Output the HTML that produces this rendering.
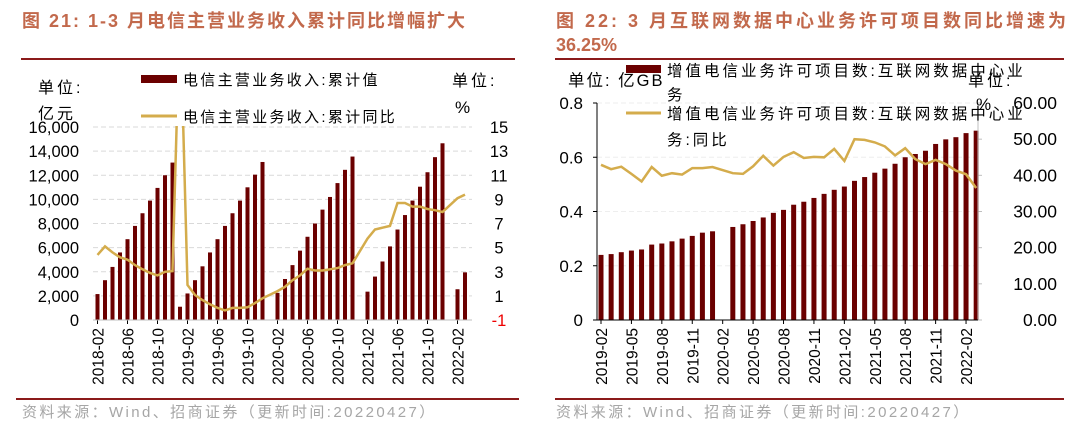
<!DOCTYPE html>
<html><head><meta charset="utf-8">
<style>
body{margin:0;background:#fff;width:1080px;height:434px;overflow:hidden;font-family:"Liberation Sans","Noto Sans CJK SC",sans-serif;}
svg text{font-family:"Liberation Sans","Noto Sans CJK SC",sans-serif;}
</style></head>
<body>
<svg id="c" width="1080" height="434" viewBox="0 0 1080 434">
<text x="22" y="27" font-size="18" font-weight="bold" fill="#c2694c" letter-spacing="2">图 21:  1-3 月电信主营业务收入累计同比增幅扩大</text>
<text x="556" y="27" font-size="18" font-weight="bold" fill="#c2694c" letter-spacing="3">图 22:  3 月互联网数据中心业务许可项目数同比增速为</text>
<text x="556" y="51" font-size="18" font-weight="bold" fill="#c2694c">36.25%</text>
<rect x="21" y="58" width="494" height="2" fill="#8b1a1a"/>
<rect x="555" y="58" width="509" height="2" fill="#8b1a1a"/>
<rect x="16" y="398" width="503" height="2" fill="#8b1a1a"/>
<rect x="555" y="398" width="509" height="2" fill="#8b1a1a"/>
<text x="22" y="417" font-size="15" fill="#a6a6a6" letter-spacing="2.4">资料来源：Wind、招商证券（更新时间:20220427）</text>
<text x="556" y="417" font-size="15" fill="#a6a6a6" letter-spacing="2.4">资料来源：Wind、招商证券（更新时间:20220427）</text>
<g id="L"></g><g id="R"></g>
</svg>
<script>
// Left chart data
const lMonths = ["2018-02","2018-03","2018-04","2018-05","2018-06","2018-07","2018-08","2018-09","2018-10","2018-11","2018-12","2019-01","2019-02","2019-03","2019-04","2019-05","2019-06","2019-07","2019-08","2019-09","2019-10","2019-11","2019-12","2020-01","2020-02","2020-03","2020-04","2020-05","2020-06","2020-07","2020-08","2020-09","2020-10","2020-11","2020-12","2021-01","2021-02","2021-03","2021-04","2021-05","2021-06","2021-07","2021-08","2021-09","2021-10","2021-11","2021-12","2022-01","2022-02","2022-03"];
const lBars = [2150,3300,4400,5600,6700,7800,8850,9900,10950,12000,13050,1100,2200,3300,4450,5600,6700,7800,8850,9900,11000,12050,13100,null,2250,3400,4550,5750,6900,8000,9150,10200,11350,12450,13550,null,2350,3600,4850,6100,7500,8700,9900,11050,12250,13500,14650,null,2550,3950];
const lLine = [4.4,5.1,4.6,4.2,4.0,3.55,3.2,2.9,2.7,3.0,3.05,25,1.9,1.07,0.65,0.3,0.0,-0.2,0.0,0.0,0.05,0.4,0.8,null,1.4,1.75,2.3,2.7,3.25,3.1,3.1,3.2,3.3,3.55,3.7,null,5.75,6.5,6.65,6.8,8.7,8.7,8.4,8.4,8.2,8.1,7.95,null,9.1,9.4];
const lLeftTicks = ["0","2,000","4,000","6,000","8,000","10,000","12,000","14,000","16,000"];
const lRightTicks = ["-1","1","3","5","7","9","11","13","15"];
const lXLabels = ["2018-02","2018-06","2018-10","2019-02","2019-06","2019-10","2020-02","2020-06","2020-10","2021-02","2021-06","2021-10","2022-02"];
// Right chart data
const rMonths = ["2019-02","2019-03","2019-04","2019-05","2019-06","2019-07","2019-08","2019-09","2019-10","2019-11","2019-12","2020-01","2020-02","2020-03","2020-04","2020-05","2020-06","2020-07","2020-08","2020-09","2020-10","2020-11","2020-12","2021-01","2021-02","2021-03","2021-04","2021-05","2021-06","2021-07","2021-08","2021-09","2021-10","2021-11","2021-12","2022-01","2022-02","2022-03"];
const rBars = [0.24,0.243,0.25,0.256,0.26,0.278,0.282,0.29,0.30,0.31,0.322,0.327,null,0.343,0.353,0.365,0.378,0.395,0.406,0.425,0.436,0.45,0.465,0.48,0.492,0.513,0.527,0.543,0.558,0.576,0.6,0.612,0.624,0.649,0.666,0.674,0.689,0.698];
const rLine = [42.9,41.7,42.4,40.4,38.3,42.3,39.9,40.6,40.2,42.0,42.0,42.3,null,40.6,40.4,42.5,45.4,42.7,45.1,46.4,44.8,45.1,45.0,47.3,44.0,50.0,49.8,49.1,48.0,45.5,47.5,44.5,43.1,44.3,43.1,41.3,40.3,36.5];
const rLeftTicks = ["0","0.2","0.4","0.6","0.8"];
const rRightTicks = ["0.00","10.00","20.00","30.00","40.00","50.00","60.00"];
const rXLabels = ["2019-02","2019-05","2019-08","2019-11","2020-02","2020-05","2020-08","2020-11","2021-02","2021-05","2021-08","2021-11","2022-02"];

const NS="http://www.w3.org/2000/svg";
function mk(p,t,a,txt){const e=document.createElementNS(NS,t);for(const k in a)e.setAttribute(k,a[k]);if(txt!==undefined)e.textContent=txt;p.appendChild(e);return e;}
const BAR="#6b0000", LINE="#d4ac4c";

// LEFT
(function(){
const g=document.getElementById('L');
const x0=97.5, dx=7.5, yT=127, yB=320;
const xS=i=>x0+i*dx;
const yL=v=>yB-(v/16000)*(yB-yT);
const yR=v=>yB-((v+1)/16)*(yB-yT);
mk(g,'clipPath',{id:'lclip'}); mk(document.getElementById('lclip'),'rect',{x:85,y:yT-1,width:400,height:yB-yT+2});
lLeftTicks.forEach((t,i)=>{const y=yB-i*(yB-yT)/8;
 if(i>0){const l=mk(g,'line',{x1:93,x2:472,y1:y,y2:y,stroke:'#d9d9d9','stroke-dasharray':'5,3'});}
 const e=mk(g,'text',{x:79,y:y+6,'text-anchor':'end','font-size':16.5,fill:'#000'},t);});
lRightTicks.forEach((t,i)=>{const y=yB-i*(yB-yT)/8;
 const e=mk(g,'text',{x:499,y:y+6,'text-anchor':'middle','font-size':16.5,fill:i==0?'#e00':'#000'},t);});
lBars.forEach((v,i)=>{if(v==null)return;const r=mk(g,'rect',{x:xS(i)-2,y:yL(v),width:4,height:yB-yL(v),fill:BAR});});
let d='';lLine.forEach((v,i)=>{if(v==null)return;d+=(d?'L':'M')+xS(i).toFixed(1)+','+yR(v).toFixed(1);});
const pl=mk(g,'path',{d:d,fill:'none',stroke:LINE,'stroke-width':2.5,'clip-path':'url(#lclip)'});
lXLabels.forEach(m=>{const i=lMonths.indexOf(m);const x=xS(i);
 mk(g,'line',{x1:x,x2:x,y1:yB,y2:yB+4,stroke:'#000'});
 const e=mk(g,'text',{x:0,y:0,transform:`translate(${x+6},${yB+8}) rotate(-90)`,'text-anchor':'end','font-size':15.5,fill:'#000'},m);});
mk(g,'line',{x1:93,x2:472,y1:yB,y2:yB,stroke:'#bfbfbf'});
let t=mk(g,'text',{x:38,y:93,'font-size':16,'letter-spacing':3},'单位:');
t=mk(g,'text',{x:38,y:119,'font-size':16,'letter-spacing':3},'亿元');
t=mk(g,'text',{x:452,y:86,'font-size':16,'letter-spacing':3},'单位:');
t=mk(g,'text',{x:455,y:113,'font-size':17},'%');
let s=mk(g,'rect',{x:141,y:75,width:36,height:8,fill:BAR});
t=mk(g,'text',{x:183,y:85,'font-size':15,'letter-spacing':2.3},'电信主营业务收入:累计值');
s=mk(g,'line',{x1:141,x2:177,y1:116,y2:116,stroke:LINE,'stroke-width':3});
t=mk(g,'text',{x:183,y:122,'font-size':15,'letter-spacing':2.3},'电信主营业务收入:累计同比');
})();

// RIGHT
(function(){
const g=document.getElementById('R');
const x0=601, dx=10.14, yT=103, yB=320;
const xS=i=>x0+i*dx;
const yL=v=>yB-(v/0.8)*(yB-yT);
const yR=v=>yB-(v/60)*(yB-yT);
rLeftTicks.forEach((t,i)=>{const y=yB-i*(yB-yT)/4;
 if(i>0){const l=mk(g,'line',{x1:597,x2:978,y1:y,y2:y,stroke:'#eeeeee','stroke-dasharray':'5,3'});}
 mk(g,'line',{x1:593,x2:597,y1:y,y2:y,stroke:'#000'});
 const e=mk(g,'text',{x:583,y:y+6,'text-anchor':'end','font-size':17},t);});
rRightTicks.forEach((t,i)=>{const y=yB-i*(yB-yT)/6;
 mk(g,'line',{x1:978,x2:982,y1:y,y2:y,stroke:'#bfbfbf'});
 const e=mk(g,'text',{x:1057,y:y+6,'text-anchor':'end','font-size':17.5},t);});
rBars.forEach((v,i)=>{if(v==null)return;const r=mk(g,'rect',{x:xS(i)-2.5,y:yL(v),width:5,height:yB-yL(v),fill:BAR});});
let d='';rLine.forEach((v,i)=>{if(v==null)return;d+=(d?'L':'M')+xS(i).toFixed(1)+','+yR(v).toFixed(1);});
const pl=mk(g,'path',{d:d,fill:'none',stroke:LINE,'stroke-width':2.5});
mk(g,'line',{x1:597,x2:597,y1:yT,y2:yB,stroke:'#000'});
mk(g,'line',{x1:978,x2:978,y1:yT,y2:yB,stroke:'#bfbfbf'});
mk(g,'line',{x1:597,x2:978,y1:yB,y2:yB,stroke:'#000'});
rXLabels.forEach(m=>{const i=rMonths.indexOf(m);const x=xS(i);
 mk(g,'line',{x1:x,x2:x,y1:yB,y2:yB+4,stroke:'#000'});
 const e=mk(g,'text',{x:0,y:0,transform:`translate(${x+6},${yB+8}) rotate(-90)`,'text-anchor':'end','font-size':15.5},m);});
let t=mk(g,'text',{x:568,y:86,'font-size':16.5,'letter-spacing':2},'单位: 亿GB');
t=mk(g,'text',{x:968,y:86,'font-size':16,'letter-spacing':3},'单位:');
t=mk(g,'text',{x:976,y:110,'font-size':17},'%');
let s=mk(g,'rect',{x:626,y:65,width:35,height:8,fill:BAR});
t=mk(g,'text',{x:667,y:76,'font-size':15.5,'letter-spacing':3},'增值电信业务许可项目数:互联网数据中心业');
t=mk(g,'text',{x:667,y:100,'font-size':15.5},'务');
s=mk(g,'line',{x1:626,x2:661,y1:113,y2:113,stroke:LINE,'stroke-width':3});
t=mk(g,'text',{x:667,y:119,'font-size':15.5,'letter-spacing':3},'增值电信业务许可项目数:互联网数据中心业');
t=mk(g,'text',{x:667,y:145,'font-size':15.5,'letter-spacing':3},'务:同比');
})();
</script>
</body></html>
